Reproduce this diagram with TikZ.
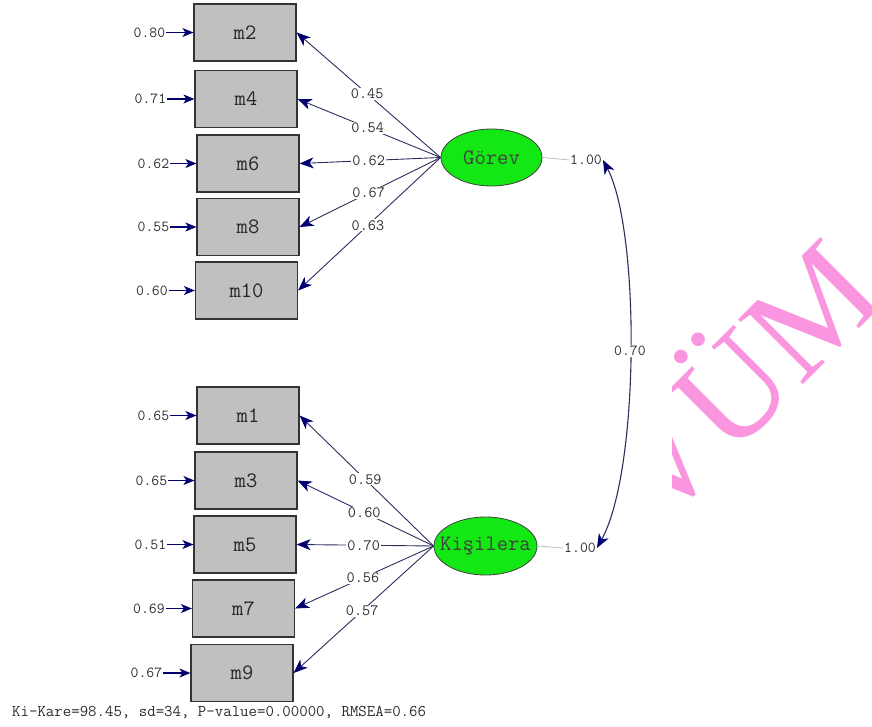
\documentclass[tikz,border=0pt]{standalone}
\usepackage{fontspec}
\setmainfont{Liberation Serif}
\usetikzlibrary{shapes.geometric,arrows.meta,positioning}
\definecolor{boxgray}{RGB}{192,192,192}
\definecolor{latgreen}{RGB}{20,232,20}
\definecolor{pathnavy}{RGB}{45,45,95}
\definecolor{headnavy}{RGB}{0,0,110}
\definecolor{wmpink}{RGB}{250,150,224}
\definecolor{txtgray}{RGB}{45,45,45}
\begin{document}
\begin{tikzpicture}[x=1pt,y=-1pt,
  obs/.style={draw=black!80, line width=1.2pt, fill=boxgray, minimum width=102pt, minimum height=57pt, inner sep=0pt, font=\ttfamily\fontsize{22}{22}\selectfont, text=black!85},
  lat/.style={ellipse, draw=black!75, line width=0.8pt, fill=latgreen, minimum width=101pt, minimum height=57pt, inner sep=0pt, font=\ttfamily\fontsize{22}{22}\selectfont, text=black!75},
  errlab/.style={font=\ttfamily\fontsize{15.3}{16}\selectfont, text=txtgray, inner sep=1pt},
  coef/.style={font=\ttfamily\fontsize{15.8}{16}\selectfont, text=txtgray, fill=white, inner sep=1pt, pos=0.51},
  load/.style={draw=pathnavy, line width=0.9pt, -{Stealth[length=14pt,width=11pt,inset=4pt,color=headnavy]}},
  errarr/.style={draw=headnavy, line width=1.5pt, -{Stealth[length=11pt,width=9pt,inset=3pt]}},
  link/.style={draw=black!25, line width=0.8pt},
  cov/.style={draw=pathnavy, line width=1.1pt, {Stealth[length=14pt,width=11pt,inset=4pt,color=headnavy]}-{Stealth[length=14pt,width=11pt,inset=4pt,color=headnavy]}}
]
\useasboundingbox (0,0) rectangle (872,727);

% watermark fragment
\begin{scope}
  \clip (672,0) rectangle (872,727);
  \node[rotate=45, inner sep=0pt, text=wmpink, font=\rmfamily\fontsize{140}{140}\selectfont] (wm) at (734,376) {VÜM};
\end{scope}

% observed variables
\node[obs] (m2)  at (245,32.5)  {m2};
\node[obs] (m4)  at (246,99)    {m4};
\node[obs] (m6)  at (248,163.5) {m6};
\node[obs] (m8)  at (248,227)   {m8};
\node[obs] (m10) at (246.5,290.5) {m10};
\node[obs] (m1)  at (248,415.5) {m1};
\node[obs] (m3)  at (246,480.5) {m3};
\node[obs] (m5)  at (245,544.5) {m5};
\node[obs] (m7)  at (243.5,608.5) {m7};
\node[obs] (m9)  at (242,673)   {m9};

% latent variables
\node[lat] (G) at (491.5,157.5) {\makebox[0pt]{Görev}};
\node[lat, minimum width=103pt, minimum height=58pt] (K) at (485.5,546) {\makebox[0pt]{Kişilera}};

% error variances
\node[errlab, left=27pt of m2]  (e2)  {0.80};
\node[errlab, left=27pt of m4]  (e4)  {0.71};
\node[errlab, left=26pt of m6]  (e6)  {0.62};
\node[errlab, left=26pt of m8]  (e8)  {0.55};
\node[errlab, left=26pt of m10] (e10) {0.60};
\node[errlab, left=26pt of m1]  (e1)  {0.65};
\node[errlab, left=26pt of m3]  (e3)  {0.65};
\node[errlab, left=26pt of m5]  (e5)  {0.51};
\node[errlab, left=26pt of m7]  (e7)  {0.69};
\node[errlab, left=27pt of m9]  (e9)  {0.67};
\foreach \i in {2,4,6,8,10,1,3,5,7,9}{
  \draw[errarr] (e\i.east) -- (m\i.west);
}

% loadings
\draw[load] (G.west) -- node[coef]{0.45} (m2.east);
\draw[load] (G.west) -- node[coef]{0.54} (m4.east);
\draw[load] (G.west) -- node[coef]{0.62} (m6.east);
\draw[load] (G.west) -- node[coef]{0.67} (m8.east);
\draw[load] (G.west) -- node[coef]{0.63} (m10.east);
\draw[load] (K.west) -- node[coef]{0.59} (m1.east);
\draw[load] (K.west) -- node[coef]{0.60} (m3.east);
\draw[load] (K.west) -- node[coef]{0.70} (m5.east);
\draw[load] (K.west) -- node[coef]{0.56} (m7.east);
\draw[load] (K.west) -- node[coef]{0.57} (m9.east);

% latent variances and covariance
\node[errlab] (v1) at (586,160) {1.00};
\node[errlab] (v2) at (580,548) {1.00};
\draw[link] (G.east) -- (v1.west);
\draw[link] (K.east) -- (v2.west);
\draw[cov] (v1.east) .. controls (640,230) and (640,470) .. node[pos=0.5, fill=white, errlab]{0.70} (v2.east);

% fit statistics
\node[anchor=west, inner sep=0pt, font=\ttfamily\fontsize{16.4}{17}\selectfont, text=txtgray] (fit) at (12,713) {Ki-Kare=98.45, sd=34, P-value=0.00000, RMSEA=0.66};
\end{tikzpicture}
\end{document}
